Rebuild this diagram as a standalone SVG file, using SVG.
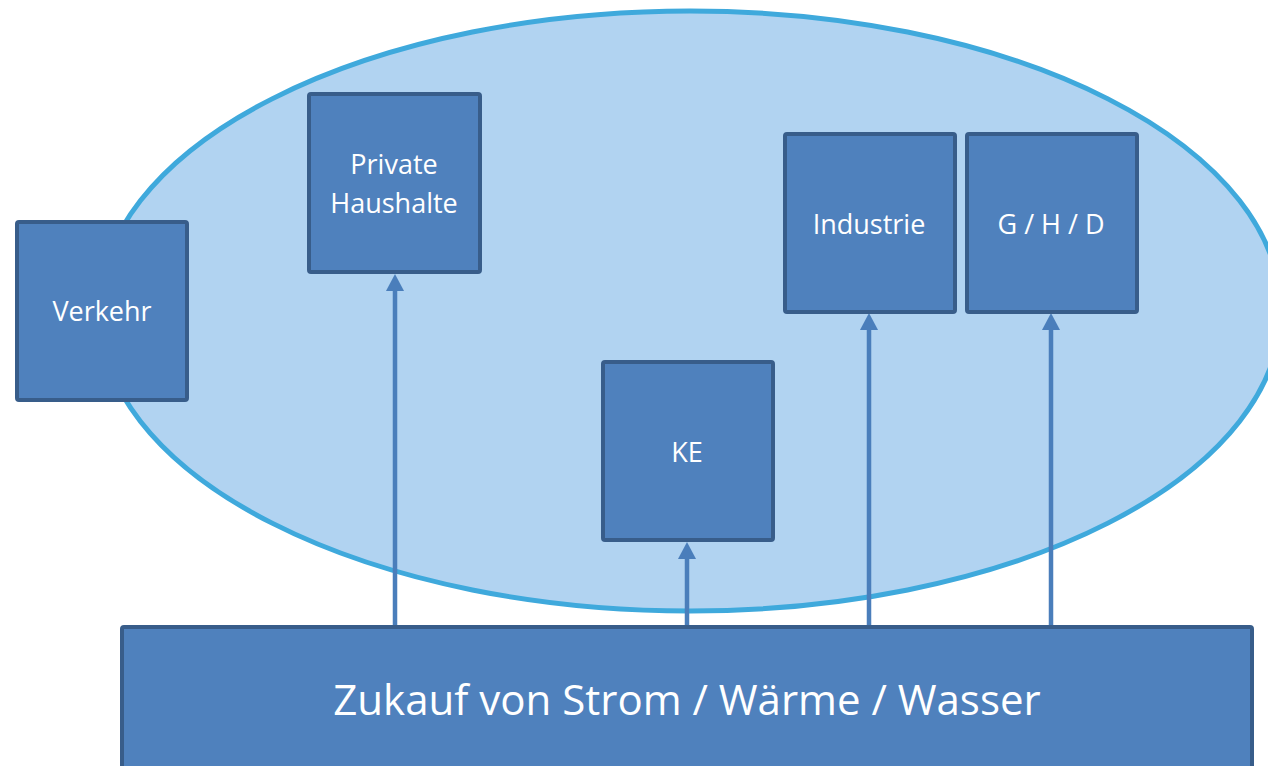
<svg xmlns="http://www.w3.org/2000/svg" width="1268" height="766" viewBox="0 0 1268 766">
<style>
.box{fill:#4f81bd;stroke:#385d8a;stroke-width:4}
.lbl{fill:#ffffff;font-family:"Open Sans","Noto Sans",sans-serif;font-size:27px;text-anchor:middle}
.big{font-size:42px}
.conn{stroke:#4a7ebb;stroke-width:4.5;fill:none}
</style>
<defs>
<marker id="arr" markerUnits="userSpaceOnUse" markerWidth="18" markerHeight="18" refX="0" refY="9" orient="auto" viewBox="0 0 18 18">
<path d="M0,0 L17,9 L0,18 z" fill="#4a7ebb"/>
</marker>
</defs>
<rect width="1268" height="766" fill="#ffffff"/>
<ellipse id="area" cx="690" cy="311" rx="591" ry="300" fill="#b1d3f1" stroke="#3fa9dc" stroke-width="5"/>
<g id="connectors">
<line class="conn" x1="395" y1="627" x2="395" y2="291" marker-end="url(#arr)"/>
<line class="conn" x1="687" y1="627" x2="687" y2="559" marker-end="url(#arr)"/>
<line class="conn" x1="869" y1="627" x2="869" y2="330" marker-end="url(#arr)"/>
<line class="conn" x1="1051" y1="627" x2="1051" y2="330" marker-end="url(#arr)"/>
</g>
<g id="verkehr">
<rect class="box" x="17" y="222" width="170" height="178" rx="2"/>
<text class="lbl" x="102" y="321">Verkehr</text>
</g>
<g id="haushalte">
<rect class="box" x="309" y="94" width="171" height="178" rx="2"/>
<text class="lbl" x="394" y="174">Private</text>
<text class="lbl" x="394" y="213">Haushalte</text>
</g>
<g id="industrie">
<rect class="box" x="785" y="134" width="170" height="178" rx="2"/>
<text class="lbl" x="869" y="234">Industrie</text>
</g>
<g id="ghd">
<rect class="box" x="967" y="134" width="170" height="178" rx="2"/>
<text class="lbl" x="1051" y="234">G / H / D</text>
</g>
<g id="ke">
<rect class="box" x="603" y="362" width="170" height="178" rx="2"/>
<text class="lbl" x="687" y="462">KE</text>
</g>
<g id="zukauf">
<rect class="box" x="122" y="627" width="1130" height="150" rx="2"/>
<text class="lbl big" x="687" y="715">Zukauf von Strom / Wärme / Wasser</text>
</g>
</svg>
